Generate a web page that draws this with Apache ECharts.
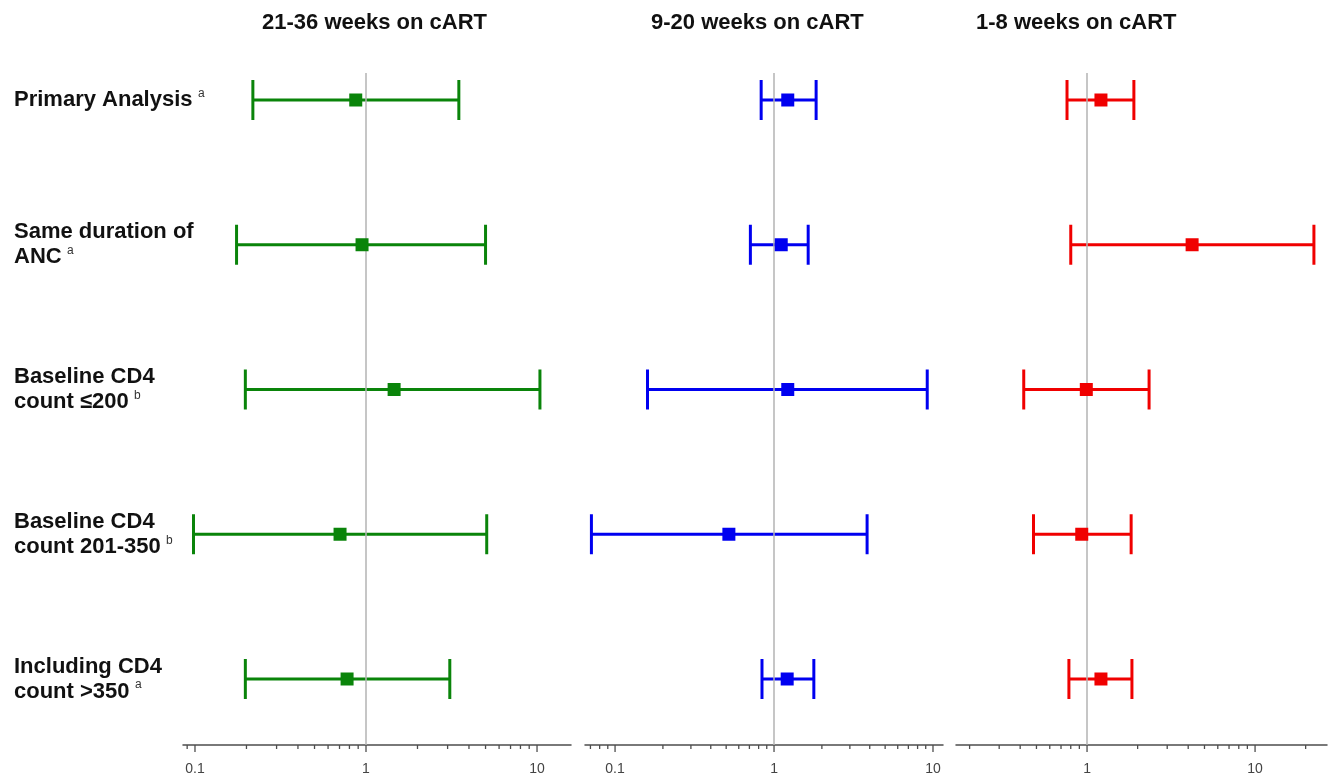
<!DOCTYPE html>
<html><head><meta charset="utf-8">
<script src="https://cdn.jsdelivr.net/npm/echarts@6/dist/echarts.min.js"></script>
<style>html,body{margin:0;padding:0;background:#fff}#c{width:1339px;height:782px}</style>
</head><body><div id="c"></div>
<script>
// ---------- data ----------
const rowLines = [
  ['Primary Analysis'],
  ['Same duration of', 'ANC'],
  ['Baseline CD4', 'count \u2264200'],
  ['Baseline CD4', 'count 201-350'],
  ['Including CD4', 'count >350']
];
const rowNotes = ['a', 'a', 'b', 'b', 'a'];
const rowIndex = [1, 2, 3, 4, 5];

const panelTitles = ['21-36 weeks on cART', '9-20 weeks on cART', '1-8 weeks on cART'];

const lowerW21_36    = [0.218, 0.175, 0.197, 0.098, 0.197];
const estimateW21_36 = [0.871, 0.948, 1.46, 0.705, 0.775];
const upperW21_36    = [3.49, 5.0, 10.4, 5.08, 3.09];

const lowerW9_20     = [0.83, 0.71, 0.16, 0.071, 0.84];
const estimateW9_20  = [1.22, 1.11, 1.22, 0.52, 1.21];
const upperW9_20     = [1.84, 1.64, 9.2, 3.85, 1.78];

const lowerW1_8      = [0.76, 0.80, 0.42, 0.48, 0.78];
const estimateW1_8   = [1.21, 4.22, 0.99, 0.93, 1.21];
const upperW1_8      = [1.90, 22.4, 2.34, 1.83, 1.85];

const majorTicks  = [0.1, 1, 10];
const majorLabels = ['0.1', '1', '10'];
const minorTicks  = [0.07, 0.08, 0.09, 0.2, 0.3, 0.4, 0.5, 0.6, 0.7, 0.8, 0.9,
                     2, 3, 4, 5, 6, 7, 8, 9, 20];
const referenceValue = 1;

// ---------- layout / style ----------
const FONT = 'Liberation Sans, Arial, sans-serif';
const panels = [
  {lower: lowerW21_36, est: estimateW21_36, upper: upperW21_36, color: '#0a840a',
   grid: {left: 183, width: 388}, min: 0.0851, max: 15.8, titleLeft: 257},
  {lower: lowerW9_20, est: estimateW9_20, upper: upperW9_20, color: '#0000f0',
   grid: {left: 585, width: 358}, min: 0.0647, max: 11.56, titleLeft: 646},
  {lower: lowerW1_8, est: estimateW1_8, upper: upperW1_8, color: '#f00000',
   grid: {left: 956, width: 371}, min: 0.166, max: 26.8, titleLeft: 971}
];

function labelFor(v) {
  for (let i = 0; i < majorTicks.length; i++) {
    if (Math.abs(v - majorTicks[i]) / majorTicks[i] < 1e-6) return majorLabels[i];
  }
  return '';
}

const grids = [], xAxes = [], yAxes = [], series = [], titles = [];
const allTicks = majorTicks.map(v => [v, 1]).concat(minorTicks.map(v => [v, 0]));

panels.forEach((p, k) => {
  grids.push({left: p.grid.left, width: p.grid.width, top: 73, bottom: 37});
  xAxes.push({
    type: 'log', logBase: 10, gridIndex: k, min: p.min, max: p.max,
    axisLine: {show: true, lineStyle: {color: '#4d4d4d', width: 1.5}},
    axisTick: {show: false}, splitLine: {show: false},
    axisLabel: {formatter: labelFor, color: '#444', fontSize: 14, fontFamily: FONT, margin: 17,
                showMinLabel: true, showMaxLabel: true}
  });
  yAxes.push({type: 'value', gridIndex: k, inverse: true, min: 0.8135, max: 5.456, show: false});
  titles.push({text: panelTitles[k], left: p.titleLeft, top: 7,
               textStyle: {fontSize: 22, fontWeight: 'bold', color: '#111', fontFamily: FONT}});

  // error bars
  series.push({
    type: 'custom', xAxisIndex: k, yAxisIndex: k, clip: false,
    itemStyle: {color: p.color},
    encode: {x: [0, 1], y: 2},
    data: rowIndex.map((r, i) => [p.lower[i], p.upper[i], r]),
    renderItem: function (params, api) {
      const lo = api.coord([api.value(0), api.value(2)]);
      const hi = api.coord([api.value(1), api.value(2)]);
      const h = 20;
      const st = {stroke: api.visual('color'), lineWidth: 3};
      return {type: 'group', children: [
        {type: 'line', shape: {x1: lo[0], y1: lo[1], x2: hi[0], y2: hi[1]}, style: st},
        {type: 'line', shape: {x1: lo[0], y1: lo[1] - h, x2: lo[0], y2: lo[1] + h}, style: st},
        {type: 'line', shape: {x1: hi[0], y1: hi[1] - h, x2: hi[0], y2: hi[1] + h}, style: st}
      ]};
    }
  });
  // point estimates + reference line
  series.push({
    type: 'scatter', xAxisIndex: k, yAxisIndex: k, symbol: 'rect', symbolSize: 13,
    itemStyle: {color: p.color, opacity: 1},
    data: rowIndex.map((r, i) => [p.est[i], r]),
    z: 5,
    markLine: {silent: true, symbol: 'none', label: {show: false},
               lineStyle: {color: '#b3b3b3', width: 1.5, type: 'solid'},
               data: [{xAxis: referenceValue}]}
  });
  // axis ticks (major + minor, log spaced)
  series.push({
    type: 'custom', xAxisIndex: k, yAxisIndex: k, clip: false, silent: true,
    encode: {x: 0},
    data: allTicks,
    renderItem: function (params, api) {
      const cs = params.coordSys;
      const c = api.coord([api.value(0), 5]);
      if (c[0] < cs.x - 0.5 || c[0] > cs.x + cs.width + 0.5) return null;
      const yb = cs.y + cs.height;
      const len = api.value(1) ? 7 : 4;
      return {type: 'line', shape: {x1: c[0], y1: yb, x2: c[0], y2: yb + len},
              style: {stroke: '#4d4d4d', lineWidth: 1.3}};
    }
  });
});

// row labels (in first panel coordinate system, aligned to rows)
series.push({
  type: 'custom', xAxisIndex: 0, yAxisIndex: 0, clip: false, silent: true,
  encode: {y: 1},
  data: rowIndex.map((r, i) => [panels[0].min, r, i]),
  renderItem: function (params, api) {
    const i = api.value(2);
    const y = api.coord([api.value(0), api.value(1)])[1];
    const lines = rowLines[i];
    const txt = lines.map((l, j) => j === lines.length - 1 ? '{b|' + l + '} {s|' + rowNotes[i] + '}' : '{b|' + l + '}').join('\n');
    return {type: 'text', x: 14, y: y, style: {
      text: txt, verticalAlign: 'middle', align: 'left',
      rich: {
        b: {fontSize: 22, fontWeight: 'bold', fill: '#111', fontFamily: FONT, lineHeight: 25},
        s: {fontSize: 12, fill: '#333', fontFamily: FONT, verticalAlign: 'top', lineHeight: 25, padding: [0, 0, 8, 2]}
      }
    }};
  }
});

const chart = echarts.init(document.getElementById('c'), null, {renderer: 'canvas'});
chart.setOption({
  backgroundColor: '#fff',
  animation: false,
  title: titles,
  grid: grids,
  xAxis: xAxes,
  yAxis: yAxes,
  series: series
});
</script>
</body></html>
